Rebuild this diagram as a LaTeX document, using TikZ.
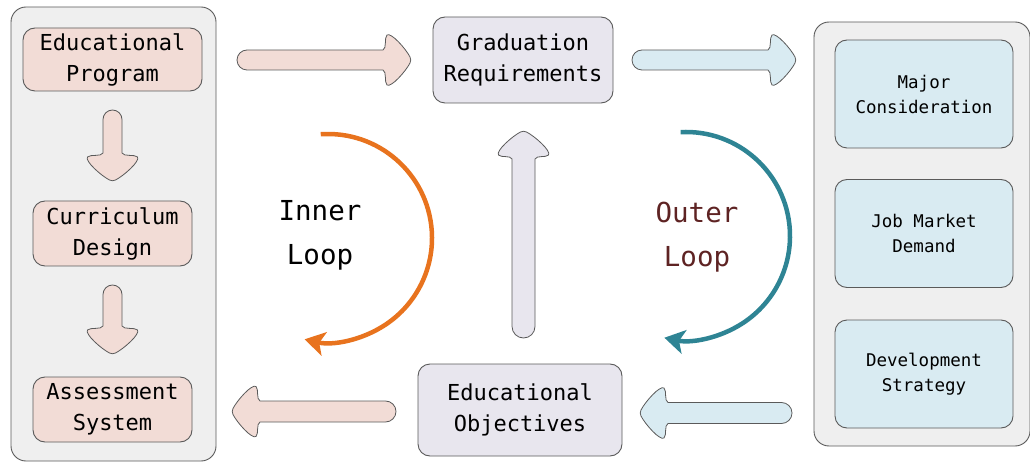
\documentclass[tikz,border=0pt]{standalone}
\usepackage{fontspec}
\newfontfamily\boxfont{DejaVu Sans Mono}
\usetikzlibrary{arrows.meta}
\definecolor{pinkfill}{HTML}{F2DCD6}
\definecolor{bluefill}{HTML}{D9EBF2}
\definecolor{lavfill}{HTML}{E8E6EE}
\definecolor{panelfill}{HTML}{EFEFEF}
\definecolor{edgecol}{HTML}{5A5A5A}
\definecolor{orangeloop}{HTML}{E8731E}
\definecolor{tealloop}{HTML}{2E8494}
\definecolor{outertext}{HTML}{5E2323}
\begin{document}
\begin{tikzpicture}[x=1pt,y=-1pt,
  panel/.style={draw=edgecol, fill=panelfill, line width=0.9pt, rounded corners=15pt, inner sep=0pt},
  box/.style={draw=edgecol, line width=0.9pt, rounded corners=12pt, align=center, inner sep=0pt},
  bigtext/.style={font=\boxfont\fontsize{22}{31}\selectfont},
  smalltext/.style={font=\boxfont\fontsize{17.5}{25}\selectfont},
  pinkbox/.style={box, bigtext, fill=pinkfill},
  lavbox/.style={box, bigtext, fill=lavfill},
  bluebox/.style={box, smalltext, fill=bluefill, minimum width=178pt, minimum height=108pt},
  looptext/.style={align=center, font=\boxfont\fontsize{27.5}{44}\selectfont},
  loopline/.style={line width=4.5pt, -{Stealth[length=20pt,width=24pt,inset=5pt]}},
  pics/blockarrow/.style args={#1/#2/#3}{code={
    \path[draw=edgecol, line width=0.8pt, fill=#3]
      ({#2},{-#2}) -- ({#1-27},{-#2})
      .. controls ({#1-23},{-#2-2}) and ({#1-26},-22) .. ({#1-23},-25)
      .. controls ({#1-19},-28) and ({#1-4},-11) .. ({#1},-3)
      .. controls ({#1+1},-1) and ({#1+1},1) .. ({#1},3)
      .. controls ({#1-4},11) and ({#1-19},28) .. ({#1-23},25)
      .. controls ({#1-26},22) and ({#1-23},{#2+2}) .. ({#1-27},{#2})
      -- ({#2},{#2}) arc[start angle=90, end angle=270, radius=#2] -- cycle;
  }}
]
\useasboundingbox (0,0) rectangle (1030,462);

% panels
\node[panel, minimum width=205pt, minimum height=454pt] (leftpanel) at (113.5,234) {};
\node[panel, minimum width=216pt, minimum height=424pt] (rightpanel) at (922,234) {};

% left boxes
\node[pinkbox, minimum width=179pt, minimum height=63pt] (prog) at (112.5,59.5) {Educational\\Program};
\node[pinkbox, minimum width=159pt, minimum height=65pt] (curr) at (112.5,233.5) {Curriculum\\Design};
\node[pinkbox, minimum width=159pt, minimum height=65pt] (assess) at (112.5,409.5) {Assessment\\System};

% centre boxes
\node[lavbox, minimum width=180pt, minimum height=86pt] (grad) at (523,60) {Graduation\\Requirements};
\node[lavbox, minimum width=204pt, minimum height=92pt] (obj) at (520,410) {Educational\\Objectives};

% right boxes
\node[bluebox] (major) at (924,94) {Major\\Consideration};
\node[bluebox] (job) at (924,233.5) {Job Market\\Demand};
\node[bluebox] (dev) at (924,374) {Development\\Strategy};

% block arrows
\pic at (237,60) {blockarrow=173/10/pinkfill};
\pic at (632,60) {blockarrow=163/10/bluefill};
\pic[rotate=-90] at (112.5,110) {blockarrow=70/9.5/pinkfill};
\pic[rotate=-90] at (112.5,285) {blockarrow=68/9.5/pinkfill};
\pic[rotate=180] at (396,411.5) {blockarrow=163/10.5/pinkfill};
\pic[rotate=180] at (792,413) {blockarrow=151/10.5/bluefill};
\pic[rotate=90] at (523.5,338) {blockarrow=206/11.5/lavfill};

% loops
\draw[loopline, orangeloop] (328,238) ++(-94:104) arc[start angle=-94, end angle=103, radius=104];
\draw[loopline, tealloop] (686,236) ++(-93:104) arc[start angle=-93, end angle=102, radius=104];

\node[looptext] (inner) at (320,235) {Inner\\Loop};
\node[looptext, text=outertext] (outer) at (697,237) {Outer\\Loop};
\end{tikzpicture}
\end{document}
